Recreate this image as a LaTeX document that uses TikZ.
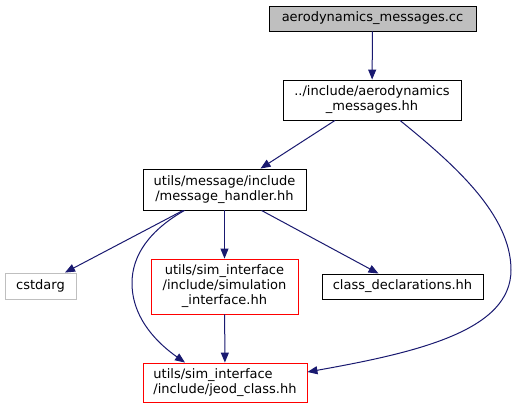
\documentclass[tikz,border=0pt]{standalone}
\usepackage{fontspec}
\setmainfont{DejaVu Sans}
\usetikzlibrary{arrows.meta}
\definecolor{edgec}{HTML}{191970}
\definecolor{grayb}{HTML}{BFBFBF}
\definecolor{redb}{HTML}{FF0000}
\begin{document}
\begin{tikzpicture}[x=1pt,y=-1pt,
  box/.style={draw=black, line width=0.9pt, inner sep=0pt, align=center, font=\fontsize{13}{15}\selectfont},
  redbox/.style={box, draw=redb},
  edge/.style={draw=edgec, line width=1pt, -{Triangle[length=10pt,width=8pt]}}]
\useasboundingbox[fill=white] (0,0) rectangle (517,409);
\node[box, fill=grayb, minimum width=207pt, minimum height=25pt] (A) at (372.5,18.5) {aerodynamics\_messages.cc};
\node[box, minimum width=178pt, minimum height=40pt] (B) at (372,100) {../include/aerodynamics\\\_messages.hh};
\node[box, minimum width=163pt, minimum height=41pt] (C) at (224.5,189.5) {utils/message/include\\/message\_handler.hh};
\node[box, draw=grayb, minimum width=71pt, minimum height=26pt] (D) at (40.5,286) {cstdarg};
\node[redbox, minimum width=147pt, minimum height=55pt] (E) at (224.5,286.5) {utils/sim\_interface\\/include/simulation\\\_interface.hh};
\node[box, minimum width=161pt, minimum height=25pt] (F) at (402.5,286.5) {class\_declarations.hh};
\node[redbox, align=left, minimum width=164pt, minimum height=39pt] (G) at (225,382.5) {utils/sim\_interface\\/include/jeod\_class.hh};
\draw[edge] (A) -- (B);
\draw[edge] ([xshift=-37pt]B.south) -- ([xshift=36pt]C.north);
\draw[edge] ([xshift=28pt]B.south) .. controls (455,165) and (511,215) .. (511,270) .. controls (511,330) and (420,352) .. ([yshift=10.5pt]G.east);
\draw[edge] ([xshift=-41.5pt]C.south) -- ([xshift=24.5pt]D.north);
\draw[edge] ([xshift=-40pt]C.south) .. controls (150,230) and (132,255) .. (132,283) .. controls (132,320) and (160,345) .. ([xshift=-40pt]G.north);
\draw[edge] (C.south) -- (E.north);
\draw[edge] ([xshift=37pt]C.south) -- ([xshift=-24pt]F.north);
\draw[edge] (E) -- (G);
\end{tikzpicture}
\end{document}
